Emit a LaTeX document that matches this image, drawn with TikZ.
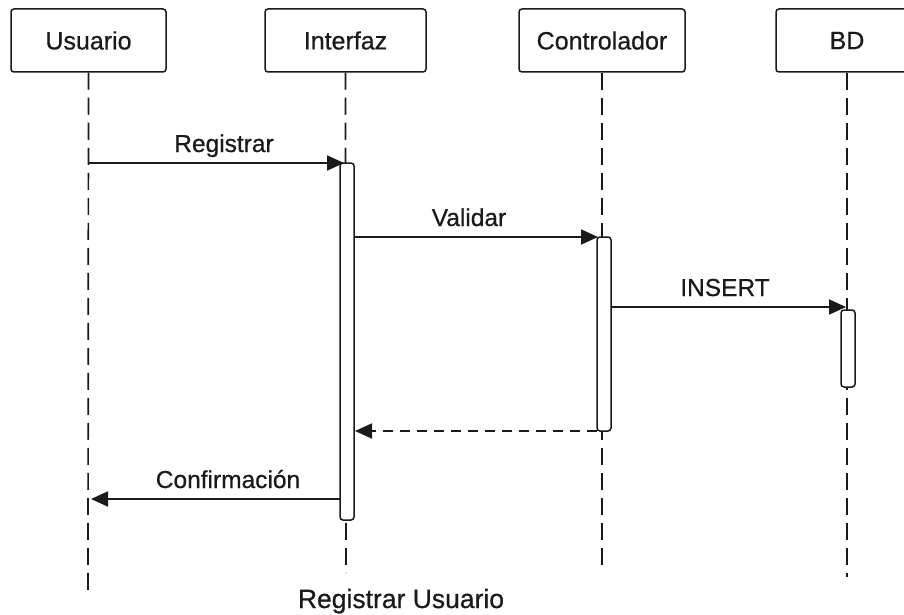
\documentclass[tikz,border=0pt]{standalone}
\usepackage{fontspec}
\setmainfont{Liberation Sans}
\newfontfamily\labelfont{Liberation Sans}[FakeBold=0.6]
\usetikzlibrary{arrows.meta}

\definecolor{ink}{HTML}{1A1A1A}

\tikzset{
  actor/.style={draw=ink, line width=1.5pt, rounded corners=3pt, fill=white,
    minimum width=#1, minimum height=63pt, inner sep=0pt, text=ink,
    font=\labelfont\fontsize{25}{30}\selectfont},
  lifeline/.style={draw=ink, line width=1.7pt, dash pattern=on 17pt off 8pt},
  actbar/.style={draw=ink, line width=1.5pt, rounded corners=3pt, fill=white,
    minimum width=14pt, minimum height=#1, inner sep=0pt},
  msg/.style={draw=ink, line width=1.8pt, -{Triangle[length=17pt,width=15pt]}},
  reply/.style={msg, dash pattern=on 10pt off 7pt},
  msglabel/.style={anchor=base, text=ink, inner sep=0pt,
    font=\labelfont\fontsize{24.5}{29}\selectfont},
}

\begin{document}
\begin{tikzpicture}[x=1pt, y=-1pt]
  \useasboundingbox[fill=white] (0,0) rectangle (904,615);

  % participants
  \node[actor=155pt] (u) at (88.5,40.5) {Usuario};
  \node[actor=161pt] (i) at (345.5,40.5) {Interfaz};
  \node[actor=166pt] (c) at (602,40.5) {Controlador};
  \node[actor=142pt] (b) at (847,40.5) {BD};

  % lifeline ends
  \coordinate (uend) at (88,592);
  \coordinate (iend) at (346,573);
  \coordinate (cend) at (602,568);
  \coordinate (bend) at (847,577);

  \draw[lifeline] (u.south) -- (uend);
  \draw[lifeline] (i.south) -- (iend);
  \draw[lifeline] (c.south) -- (cend);
  \draw[lifeline] (b.south) -- (bend);

  % activation bars
  \node[actbar=357pt] (ia) at (347,341.5) {};
  \node[actbar=194pt] (ca) at (604,334) {};
  \node[actbar=77pt]  (ba) at (848,348.5) {};

  % message endpoints
  \coordinate (m1s) at (88,163);
  \coordinate (m1e) at (344,163);
  \coordinate (m2s) at (354,237);
  \coordinate (m2e) at (598,237);
  \coordinate (m3s) at (611,307);
  \coordinate (m3e) at (846,307);
  \coordinate (m4s) at (597,431);
  \coordinate (m4e) at (355,431);
  \coordinate (m5s) at (340,499);
  \coordinate (m5e) at (91,499);

  % messages
  \draw[msg] (m1s) -- (m1e);
  \draw[msg] (m2s) -- (m2e);
  \draw[msg] (m3s) -- (m3e);
  \draw[reply] (m4s) -- (m4e);
  \draw[msg] (m5s) -- (m5e);

  % message labels
  \node[msglabel] (l1) at (224,152) {Registrar};
  \node[msglabel] (l2) at (469,226) {Validar};
  \node[msglabel] (l3) at (725,296) {INSERT};
  \node[msglabel] (l5) at (228,488) {Confirmación};

  % caption
  \node[msglabel, font=\labelfont\fontsize{26.5}{31}\selectfont] (title) at (401,608) {Registrar Usuario};
\end{tikzpicture}
\end{document}
